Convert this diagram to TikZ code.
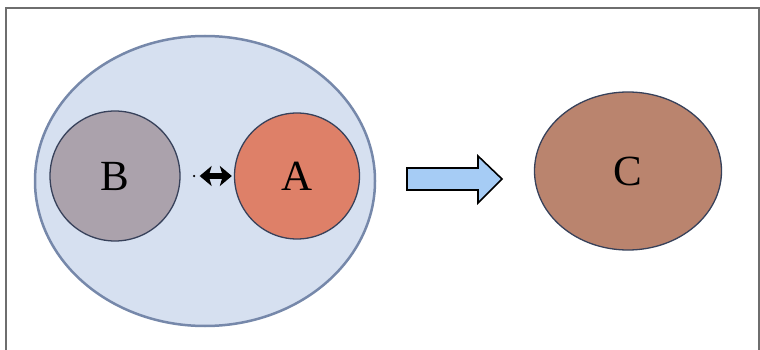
\documentclass[tikz,border=0pt]{standalone}
\usepackage{fontspec}
\setmainfont{Liberation Serif}
\usetikzlibrary{arrows.meta,shapes.geometric}
\definecolor{bigfill}{RGB}{214,224,240}
\definecolor{bigdraw}{RGB}{118,136,170}
\definecolor{bfill}{RGB}{171,162,172}
\definecolor{afill}{RGB}{222,128,104}
\definecolor{cfill}{RGB}{186,132,110}
\definecolor{circdraw}{RGB}{55,65,90}
\definecolor{arrfill}{RGB}{166,204,245}
\definecolor{framecol}{RGB}{110,110,110}
\tikzset{bigtip/.tip={Stealth[length=12pt,width=20pt,inset=3pt]}}
\begin{document}
\begin{tikzpicture}[x=1pt,y=-1pt,
  blob/.style={ellipse, draw=circdraw, line width=1.3pt, inner sep=0pt, font=\fontsize{43}{43}\selectfont},
  ]
\useasboundingbox (0,0) rectangle (760,350);
\fill[white] (0,0) rectangle (760,350);
\draw[framecol, line width=2pt] (6,350) -- (6,8) -- (759,8) -- (759,350);
\node[blob, draw=bigdraw, line width=2.5pt, fill=bigfill, minimum width=340pt, minimum height=290pt] (outer) at (205,181) {};
\node[blob, fill=bfill, minimum width=130pt, minimum height=130pt] (B) at (115,176) {B};
\node[blob, fill=afill, minimum width=125pt, minimum height=126pt] (A) at (297,176) {A};
\node[blob, fill=cfill, minimum width=187pt, minimum height=158pt] (C) at (628,171) {C};
\node[circle, fill=black, inner sep=0pt, minimum size=2.5pt] (dot) at (194,176) {};
\draw[line width=6pt, {bigtip}-{bigtip}, shorten <=19pt, shorten >=2pt] (B) -- (A);
\draw[black, line width=1.6pt, fill=arrfill, line join=miter] (407,168) -- (478,168) -- (478,156) -- (502,179) -- (478,203) -- (478,190) -- (407,190) -- cycle;
\end{tikzpicture}
\end{document}
